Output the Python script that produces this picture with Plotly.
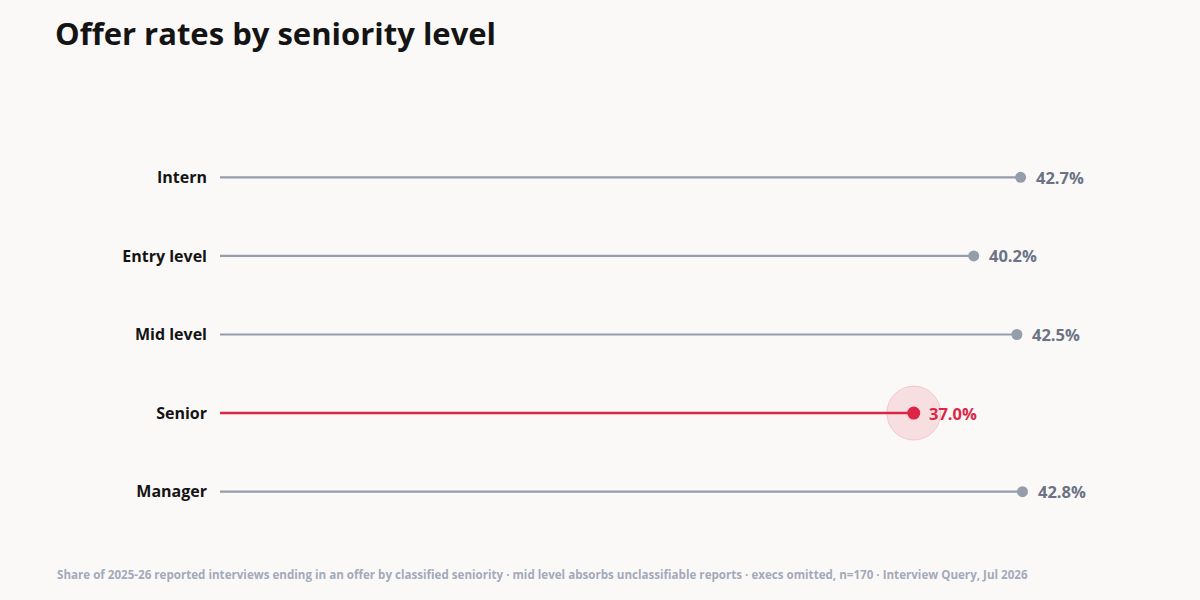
import plotly.graph_objects as go

categories = ["Intern", "Entry level", "Mid level", "Senior", "Manager"]
values = [42.7, 40.2, 42.5, 37.0, 42.8]
highlight = "Senior"

GRAY_LINE = "#959dab"
GRAY_TEXT = "#6b7384"
RED = "#dc2645"
BG = "#fbf9f8"
FONT = "Open Sans"

fig = go.Figure()
annotations = []

for cat, val in zip(categories, values):
    hl = cat == highlight
    color = RED if hl else GRAY_LINE
    fig.add_trace(go.Scatter(
        x=[0, val], y=[cat, cat], mode="lines",
        line=dict(color=color, width=2.5 if hl else 2.2),
        hoverinfo="skip", showlegend=False,
    ))
    if hl:
        fig.add_trace(go.Scatter(
            x=[val], y=[cat], mode="markers",
            marker=dict(size=54, color="rgba(220,38,69,0.12)",
                        line=dict(color="rgba(220,38,69,0.18)", width=1)),
            hoverinfo="skip", showlegend=False,
        ))
    fig.add_trace(go.Scatter(
        x=[val], y=[cat], mode="markers",
        marker=dict(size=13 if hl else 11, color=color),
        hoverinfo="skip", showlegend=False,
    ))
    annotations.append(dict(
        x=val, y=cat, xref="x", yref="y", text=f"{val:.1f}%", showarrow=False,
        xanchor="left", yanchor="middle", xshift=13,
        font=dict(family=FONT, size=16.5, color=RED if hl else GRAY_TEXT, weight=700),
    ))

annotations.append(dict(
    text="Share of 2025-26 reported interviews ending in an offer by classified seniority · mid level absorbs unclassifiable reports · execs omitted, n=170 · Interview Query, Jul 2026",
    xref="paper", yref="paper", x=(55 - 220) / 900, y=-0.11, xanchor="left", yanchor="middle",
    showarrow=False, font=dict(family=FONT, size=11.6, color="#a3aab8", weight=700),
))

fig.update_layout(
    width=1200, height=600,
    paper_bgcolor=BG, plot_bgcolor=BG,
    margin=dict(l=220, r=80, t=138, b=69),
    title=dict(text="Offer rates by seniority level", x=55 / 1200, xref="container",
               xanchor="left", y=0.962, yanchor="top",
               font=dict(family=FONT, size=31, color="#141414", weight=700)),
    xaxis=dict(range=[0, 48], showgrid=False, zeroline=False, showticklabels=False,
               showline=False, fixedrange=True),
    yaxis=dict(categoryorder="array", categoryarray=categories[::-1],
               range=[-0.5, 4.5], showgrid=False, zeroline=False, showline=False,
               ticks="", ticklabelstandoff=12, fixedrange=True,
               tickfont=dict(family=FONT, size=16, color="#141414", weight=700)),
    annotations=annotations,
)

fig.write_html("out.html", config={"displayModeBar": False},
               post_script="document.body.style.margin='0';")
